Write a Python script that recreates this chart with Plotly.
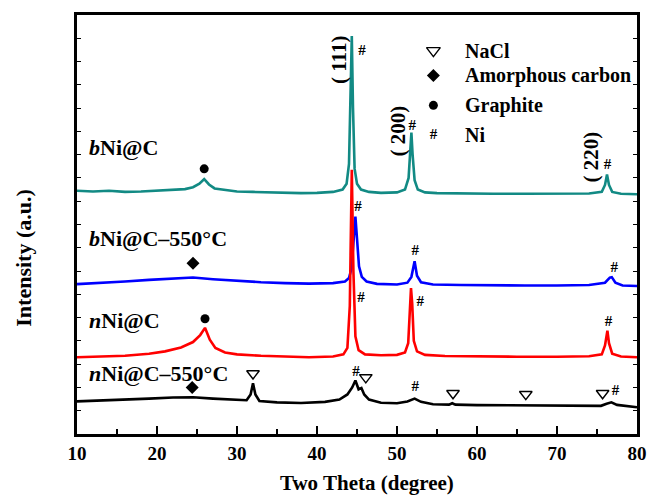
import plotly.graph_objects as go

FONT = "Liberation Serif, Times New Roman, serif"

# ---- data (intensity in stacked arbitrary units) ----
bNiC_x = [10, 12, 14, 16, 18, 20, 22, 23.5, 24.5, 25.3, 25.9, 26.5, 27.2, 28.5, 30, 32, 34, 36, 38, 40, 42,
          43.2, 43.7, 44.0, 44.2, 44.35, 44.5, 44.7, 45.0, 45.5, 46.5, 48, 50, 51.0, 51.45, 51.65, 51.8, 51.95,
          52.2, 52.6, 53.5, 55, 58, 62, 66, 70, 74, 75.6, 76.0, 76.25, 76.5, 76.9, 78, 80]
bNiC_y = [10.45, 10.42, 10.45, 10.40, 10.42, 10.45, 10.48, 10.52, 10.60, 10.75, 10.95, 10.72, 10.55, 10.48,
          10.42, 10.40, 10.38, 10.36, 10.35, 10.36, 10.40, 10.50, 10.75, 11.6, 14.5, 17.1, 14.0, 11.4, 10.75,
          10.50, 10.40, 10.36, 10.38, 10.50, 11.0, 12.2, 12.95, 12.0, 10.9, 10.5, 10.38, 10.35, 10.33, 10.32,
          10.32, 10.32, 10.33, 10.40, 10.70, 11.15, 10.70, 10.40, 10.32, 10.30]

bNiC550_x = [10, 13, 16, 19, 22, 24.5, 27, 30, 33, 36, 39, 42, 43.5, 44.0, 44.3, 44.55, 44.8, 45.0, 45.25,
             45.6, 46.2, 47.5, 50, 51.3, 51.8, 52.2, 52.5, 53, 54.5, 58, 62, 66, 70, 74, 76.0, 76.6, 76.85,
             77.3, 78.2, 80]
bNiC550_y = [6.44, 6.48, 6.55, 6.62, 6.68, 6.72, 6.65, 6.58, 6.52, 6.48, 6.46, 6.48, 6.55, 6.70, 7.10, 8.20,
             9.34, 8.40, 7.20, 6.75, 6.55, 6.45, 6.42, 6.50, 6.75, 7.42, 6.80, 6.52, 6.42, 6.40, 6.38, 6.38,
             6.38, 6.40, 6.50, 6.72, 6.74, 6.50, 6.38, 6.36]

nNiC_x = [10, 13, 16, 19, 21, 23, 24.5, 25.4, 26.0, 26.6, 27.3, 28.5, 30, 33, 36, 39, 42, 43.3, 43.8, 44.1,
          44.35, 44.55, 44.8, 45.2, 46, 48, 50, 51.0, 51.4, 51.6, 51.75, 51.9, 52.1, 52.5, 53.5, 56, 60, 65,
          70, 74, 75.6, 76.0, 76.3, 76.5, 76.9, 78, 80]
nNiC_y = [3.30, 3.32, 3.36, 3.45, 3.55, 3.72, 3.95, 4.25, 4.56, 4.05, 3.70, 3.50, 3.42, 3.36, 3.32, 3.30,
          3.33, 3.42, 3.70, 5.50, 11.35, 7.00, 4.20, 3.60, 3.42, 3.38, 3.40, 3.50, 3.90, 5.20, 6.27, 5.60,
          4.00, 3.55, 3.40, 3.35, 3.33, 3.32, 3.32, 3.34, 3.42, 3.80, 4.44, 3.90, 3.45, 3.33, 3.30]

nNiC550_x = [10, 13, 16, 19, 22, 24.5, 27, 29.5, 31.2, 31.7, 32.0, 32.3, 32.8, 35, 38, 41, 42.8, 43.8, 44.4,
             44.8, 45.2, 45.55, 45.9, 46.5, 48, 50, 51.3, 52.2, 53.0, 54.5, 56.5, 56.9, 57.3, 60, 63, 66, 70,
             73, 75.5, 76.2, 76.8, 77.5, 79, 80]
nNiC550_y = [1.40, 1.43, 1.47, 1.52, 1.57, 1.58, 1.52, 1.46, 1.45, 1.70, 2.18, 1.70, 1.42, 1.36, 1.33, 1.38,
             1.48, 1.70, 2.00, 2.30, 1.92, 1.98, 1.70, 1.48, 1.34, 1.32, 1.40, 1.52, 1.38, 1.28, 1.26, 1.32,
             1.26, 1.24, 1.23, 1.22, 1.20, 1.20, 1.21, 1.30, 1.36, 1.25, 1.18, 1.15]

series_names = ["bNi@C", "bNi@C–550°C", "nNi@C", "nNi@C–550°C"]
series_colors = ["#128a84", "#0000ff", "#ff0000", "#000000"]

# sample labels
label_text = ["<i>b</i>Ni@C", "<i>b</i>Ni@C–550°C", "<i>n</i>Ni@C", "<i>n</i>Ni@C–550°C"]
label_x = [11.2, 11.2, 11.2, 11.3]
label_y = [12.29, 8.40, 4.86, 2.60]

# phase markers
graphite_x = [25.9, 26.0]
graphite_y = [11.39, 4.95]
amorph_x = [24.5, 24.4]
amorph_y = [7.34, 2.00]
nacl_x = [32.0, 46.1, 57.0, 66.1, 75.7]
nacl_y = [2.60, 2.43, 1.75, 1.71, 1.75]
ni_x = [45.62, 51.9, 76.3, 45.12, 52.27, 77.17, 45.5, 52.9, 76.43, 44.88, 52.27, 77.3]
ni_y = [16.43, 13.23, 11.56, 9.73, 7.85, 7.12, 5.84, 5.67, 4.78, 2.65, 2.0, 1.83]

# Miller indices
hkl_text = ["( 111)", "( 200)", "( 220)"]
hkl_x = [42.66, 50.18, 74.2]
hkl_y = [16.08, 13.01, 11.9]

# legend (drawn as annotations)
legend_labels = ["NaCl", "Amorphous carbon", "Graphite", "Ni"]
legend_y = [16.47, 15.4, 14.12, 12.84]

fig = go.Figure()
for xs, ys, c in [(bNiC_x, bNiC_y, series_colors[0]), (bNiC550_x, bNiC550_y, series_colors[1]),
                  (nNiC_x, nNiC_y, series_colors[2]), (nNiC550_x, nNiC550_y, series_colors[3])]:
    fig.add_trace(go.Scatter(x=xs, y=ys, mode="lines", line=dict(color=c, width=2.6), showlegend=False,
                             hoverinfo="skip"))

fig.add_trace(go.Scatter(x=graphite_x, y=graphite_y, mode="markers",
                         marker=dict(symbol="circle", size=9, color="black"), showlegend=False))
fig.add_trace(go.Scatter(x=amorph_x, y=amorph_y, mode="markers",
                         marker=dict(symbol="diamond", size=10, color="black"), showlegend=False))
fig.add_trace(go.Scatter(x=nacl_x, y=nacl_y, mode="markers",
                         marker=dict(symbol="triangle-down-open", size=11, color="black",
                                     line=dict(width=1.4, color="black")), showlegend=False))
fig.add_trace(go.Scatter(x=ni_x, y=ni_y, mode="text", text=["#"] * len(ni_x),
                         textfont=dict(family=FONT, size=15, color="black", weight="bold"),
                         showlegend=False))

# legend symbols
leg_sym_x = 54.55
fig.add_trace(go.Scatter(x=[leg_sym_x], y=[legend_y[0]], mode="markers",
                         marker=dict(symbol="triangle-down-open", size=12, color="black",
                                     line=dict(width=1.4, color="black")), showlegend=False))
fig.add_trace(go.Scatter(x=[leg_sym_x], y=[legend_y[1]], mode="markers",
                         marker=dict(symbol="diamond", size=10, color="black"), showlegend=False))
fig.add_trace(go.Scatter(x=[leg_sym_x], y=[legend_y[2]], mode="markers",
                         marker=dict(symbol="circle", size=9, color="black"), showlegend=False))
fig.add_trace(go.Scatter(x=[leg_sym_x], y=[legend_y[3]], mode="text", text=["#"],
                         textfont=dict(family=FONT, size=15, color="black", weight="bold"),
                         showlegend=False))

ann = []
for t, x, y in zip(label_text, label_x, label_y):
    ann.append(dict(x=x, y=y, text=t, showarrow=False, xanchor="left", yanchor="middle",
                    font=dict(family=FONT, size=22, color="black", weight="bold")))
for t, x, y in zip(hkl_text, hkl_x, hkl_y):
    ann.append(dict(x=x, y=y, text=t, showarrow=False, textangle=-90, xanchor="center", yanchor="middle",
                    font=dict(family=FONT, size=21, color="black", weight="bold")))
for t, y in zip(legend_labels, legend_y):
    ann.append(dict(x=58.3, y=y, text=t, showarrow=False, xanchor="left", yanchor="middle",
                    font=dict(family=FONT, size=20, color="black", weight="bold")))
ann.append(dict(x=0.5185, y=-0.117, xref="paper", yref="paper", text="Two Theta (degree)", showarrow=False,
                xanchor="center", yanchor="middle", font=dict(family=FONT, size=21, color="black", weight="bold")))
ann.append(dict(x=-0.097, y=0.42, xref="paper", yref="paper", text="Intensity (a.u.)", showarrow=False,
                textangle=-90, xanchor="center", yanchor="middle",
                font=dict(family=FONT, size=22, color="black", weight="bold")))

fig.update_layout(
    width=659, height=496,
    margin=dict(l=77, r=14, t=12, b=62),
    paper_bgcolor="white", plot_bgcolor="white",
    annotations=ann,
    xaxis=dict(range=[10, 80], tickmode="linear", tick0=10, dtick=10, ticks="inside", ticklen=8, tickwidth=2,
               tickcolor="black", showline=True, linecolor="black", linewidth=2.5, mirror=True,
               showgrid=False, zeroline=False,
               minor=dict(tickmode="linear", tick0=15, dtick=10, ticks="inside", ticklen=5, tickwidth=2,
                          tickcolor="black", showgrid=False),
               tickfont=dict(family=FONT, size=19, color="black", weight="bold")),
    yaxis=dict(range=[0, 18], tickmode="linear", tick0=0, dtick=1, ticks="inside", ticklen=4, tickwidth=1.2,
               tickcolor="black", showline=True, linecolor="black", linewidth=2.5, mirror="ticks",
               showgrid=False, zeroline=False, showticklabels=False),
)

fig.write_html("out.html", config={"displayModeBar": False},
               post_script="document.body.style.margin='0px';")
